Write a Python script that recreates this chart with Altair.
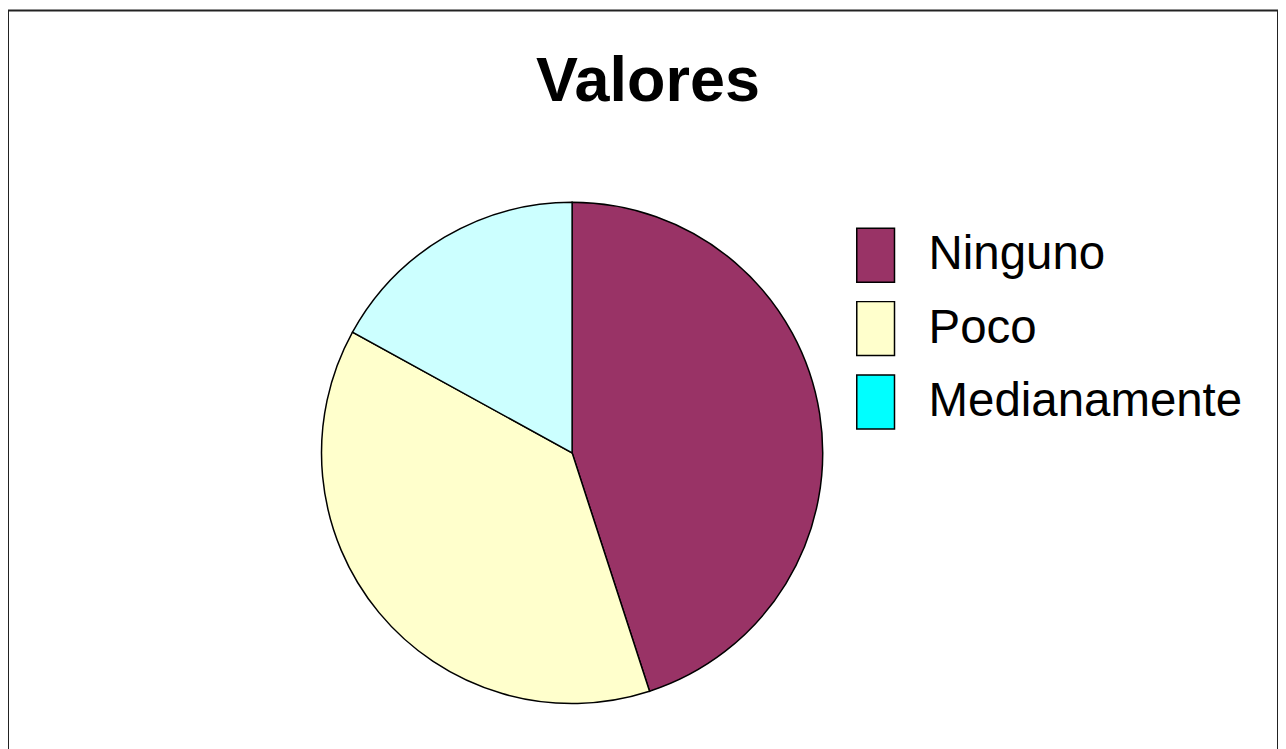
import altair as alt
import pandas as pd

categorias = ["Ninguno", "Poco", "Medianamente"]
valores = [45, 38, 17]
colores_pastel = ["#993366", "#FFFFCC", "#CCFFFF"]
colores_leyenda = ["#993366", "#FFFFCC", "#00FFFF"]
titulo_texto = ["Valores"]

df = pd.DataFrame({
    "categoria": categorias,
    "valor": valores,
    "orden": list(range(len(categorias))),
})

pie = alt.Chart(df).mark_arc(radius=251, stroke="black", strokeWidth=1.5).encode(
    theta=alt.Theta("valor:Q", stack=True),
    order=alt.Order("orden:Q"),
    color=alt.Color(
        "categoria:N",
        scale=alt.Scale(domain=categorias, range=colores_pastel),
        legend=None,
    ),
    x=alt.value(565),
    y=alt.value(443),
)

leyenda = alt.Chart(df).transform_filter("false").mark_square(filled=True, opacity=1).encode(
    color=alt.Color(
        "categoria:N",
        scale=alt.Scale(domain=categorias, range=colores_leyenda),
        legend=alt.Legend(
            title=None,
            orient="none",
            legendX=841,
            legendY=217,
            symbolType="M-0.7,-1L0.7,-1L0.7,1L-0.7,1Z",
            symbolSize=2916,
            symbolStrokeColor="black",
            symbolStrokeWidth=1.5,
            symbolOpacity=1,
            labelFont="Liberation Sans",
            labelFontSize=47.5,
            labelColor="black",
            labelOffset=25,
            labelLimit=600,
            rowPadding=13.5,
        ),
    ),
)

titulo = alt.Chart(pd.DataFrame({"t": titulo_texto})).mark_text(
    font="Liberation Sans", fontSize=63, fontWeight="bold",
    baseline="alphabetic", align="center", color="black",
).encode(
    text="t:N",
    x=alt.value(641),
    y=alt.value(91),
)

chart = alt.layer(pie, leyenda, titulo).resolve_scale(
    color="independent"
).properties(
    width=1272,
    height=745,
    autosize=alt.AutoSizeParams(type="none"),
    padding={"left": 0, "top": 2, "right": 0, "bottom": 0},
    background="white",
).configure_view(stroke="#222222", strokeWidth=2)

chart.save("out.html", embed_options={"renderer": "svg", "actions": False})
